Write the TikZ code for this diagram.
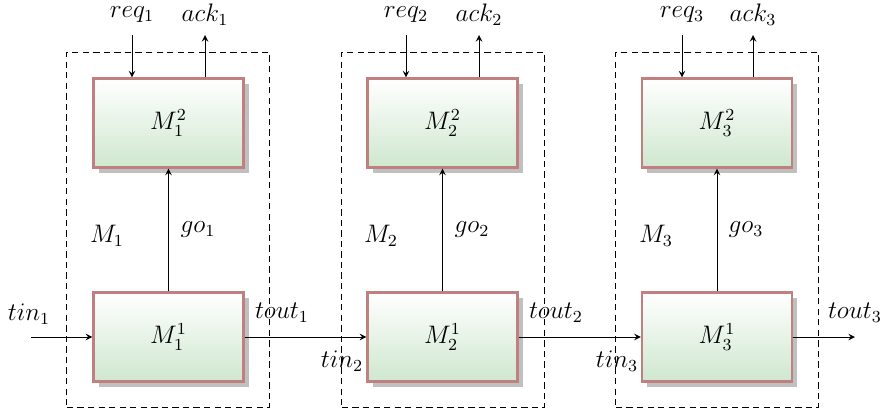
\documentclass[tikz,border=0pt]{standalone}
\usetikzlibrary{shadows,arrows}
\definecolor{boxborder}{RGB}{192,128,128}
\definecolor{boxbottom}{RGB}{207,231,207}
\definecolor{shadowgray}{RGB}{192,192,192}
\tikzset{
  module/.style={draw=boxborder, line width=1.1pt, top color=white, bottom color=boxbottom,
    minimum width=2.5cm, minimum height=1.48cm, inner sep=0pt, font=\large,
    drop shadow={shadow xshift=0.09cm, shadow yshift=-0.09cm, fill=shadowgray, opacity=1}},
  group/.style={draw, dashed, dash pattern=on 3pt off 2pt, line width=0.45pt,
    minimum width=3.37cm, minimum height=5.93cm, inner sep=0pt},
  sig/.style={->, >=stealth, line width=0.4pt},
  lbl/.style={inner sep=0pt, font=\large}
}
\begin{document}
\begin{tikzpicture}[x=0.016667cm, y=-0.016667cm]
\useasboundingbox (0,0) rectangle (880,409);
% groups
\foreach \i/\cx in {1/168, 2/443, 3/717} {
  \node[group] (d\i) at (\cx,230) {};
}
% modules
\foreach \i/\cx in {1/168.5, 2/442.5, 3/717} {
  \node[module] (top\i) at (\cx,123) {$M_{\i}^2$};
  \node[module] (bot\i) at (\cx,337) {$M_{\i}^1$};
  \draw[sig] (bot\i.north) -- (top\i.south);
}
% req / ack
\foreach \i/\rx/\ax in {1/132/205, 2/406/479, 3/682/753} {
  \coordinate (r\i) at (\rx,35);
  \coordinate (a\i) at (\ax,35);
  \draw[sig] (r\i) -- (r\i |- top\i.north);
  \draw[sig] (a\i |- top\i.north) -- (a\i);
  \node[lbl] (rl\i) at (\rx,15) {$req_{\i}$};
  \node[lbl] (al\i) at (\ax,15) {$ack_{\i}$};
}
% group labels and go
\foreach \i/\mx/\gx in {1/107/198, 2/381/472, 3/656/746} {
  \node[lbl] (ml\i) at (\mx,236) {$M_{\i}$};
  \node[lbl] (gl\i) at (\gx,230) {$go_{\i}$};
}
% chain
\coordinate (tinstart) at (31,337);
\coordinate (toutend) at (855,337);
\draw[sig] (tinstart) -- (bot1.west);
\draw[sig] (bot1.east) -- (bot2.west);
\draw[sig] (bot2.east) -- (bot3.west);
\draw[sig] (bot3.east) -- (toutend);
\node[lbl] (tin1) at (29,314) {$tin_1$};
\node[lbl] (tout1) at (282,313) {$tout_1$};
\node[lbl] (tin2) at (342,361) {$tin_2$};
\node[lbl] (tout2) at (556,313) {$tout_2$};
\node[lbl] (tin3) at (617,361) {$tin_3$};
\node[lbl] (tout3) at (855,313) {$tout_3$};
\end{tikzpicture}
\end{document}
